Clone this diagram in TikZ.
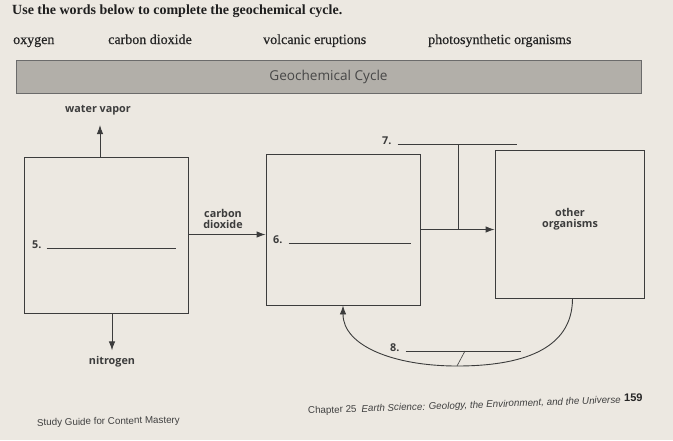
\documentclass[tikz,border=0pt]{standalone}
\usepackage{fontspec}
\setmainfont{Liberation Serif}
\setsansfont{Open Sans}
\newfontfamily\footfont{Liberation Sans}
\newfontfamily\bankfont[FakeBold=0.5]{Liberation Serif}
\usetikzlibrary{arrows.meta,positioning}
\definecolor{paper}{HTML}{ECE8E1}
\definecolor{banner}{HTML}{B2AFA9}
\definecolor{ink}{HTML}{3C3C3C}
\tikzset{
  cyclebox/.style={draw=ink, line width=0.9pt, inner sep=0pt},
  flow/.style={draw=ink, line width=0.9pt, -{Latex[length=9pt,width=6.5pt]}},
  lbl/.style={font=\sffamily\bfseries\fontsize{10.8}{12}\selectfont, text=ink, align=center, inner sep=1pt},
  num/.style={font=\sffamily\bfseries\fontsize{10.8}{12}\selectfont, text=ink, inner sep=0pt},
  blank/.style={draw=ink, line width=0.6pt},
  bank/.style={font=\bankfont\fontsize{14}{16}\selectfont, text=black!85, anchor=base west, inner sep=0pt},
  foot/.style={font=\footfont\fontsize{9.8}{11}\selectfont, text=black!75, anchor=base west, inner sep=0pt},
}
\begin{document}
\begin{tikzpicture}[x=1pt,y=-1pt]
			%%%%% START %%%%%
			\fill[paper] (0,0) rectangle (673,440);
			\useasboundingbox (0,0) rectangle (673,440);
			
			\node[anchor=base west, inner sep=0pt, text=black!88, font=\bfseries\fontsize{14}{16}\selectfont] (title) at (12,14) {Use the words below to complete the geochemical cycle.};
			
			\node[bank] (w1) at (13,44) {oxygen};
			\node[bank] (w2) at (108,44) {carbon dioxide};
			\node[bank] (w3) at (263,44) {volcanic eruptions};
			\node[bank] (w4) at (428,44) {photosynthetic organisms};
			
			\node[fill=banner, draw=black!58, line width=1pt, minimum width=625pt, minimum height=33pt, inner sep=0pt,
			  font=\sffamily\fontsize{13.6}{15}\selectfont, text=black!72] (head) at (328.5,77) {Geochemical Cycle};
			
			%% the three boxes
			\node[cyclebox, minimum width=164pt, minimum height=156pt] (left) at (106,235) {};
			\node[cyclebox, minimum width=154pt, minimum height=151pt] (mid) at (343,229.5) {};
			\node[cyclebox, minimum width=149pt, minimum height=148pt] (right) at (569.5,224) {};
			
			\node[lbl] (vapor) at (98,110) {water vapor};
			\node[lbl] (nitro) at (112,362) {nitrogen};
			\node[lbl] (co2) at (223,219) {carbon\\[-1pt]dioxide};
			\node[lbl] (other) at (570,219.5) {other\\[-1pt]organisms};
			
			\draw[flow] (left.north -| 100,0) -- ([yshift=-9pt]vapor.south -| 100,0);
			\draw[flow] (left.south -| nitro) -- ([yshift=5pt]nitro.north);
			
			\coordinate (inA) at ([yshift=-5pt]mid.west);
			\draw[flow] (left.east |- inA) -- (inA);
			\draw[flow] (mid.east) -- (mid.east -| right.west);
			
			%% blanks
			\node[num, anchor=base west] (n5) at (32,248) {5.};
			\draw[blank] ([xshift=5pt]n5.base east) -- ++(129,0);
			
			\node[num, anchor=base west] (n6) at (273,243) {6.};
			\draw[blank] ([xshift=6pt]n6.base east) -- ++(122,0);
			
			\node[num, anchor=base west] (n7) at (382,144) {7.};
			\draw[blank] ([xshift=6pt]n7.base east) coordinate (b7) -- ++(119,0);
			\coordinate (j7) at (458,0);
			\draw[blank] (j7 |- b7) -- (j7 |- mid.east);
			
			%% return path
			\coordinate (low) at (457,366);
			\draw[flow] ([xshift=3pt]right.south) .. controls +(0,52) and (520,366) .. (low)
			  .. controls (394,366) and (343,346) .. (mid.south);
			\node[num, anchor=base west] (n8) at (390,351) {8.};
			\draw[blank] ([xshift=6pt]n8.base east) coordinate (b8) -- ++(115,0);
			\draw[blank] (b8 -| 465,0) -- (low);
			
			%% footer
			\node[foot, rotate=1.2] (guide) at (37,426) {Study Guide for Content Mastery};
			\node[foot, rotate=2] (chap) at (308,414) {Chapter 25\enspace\textit{Earth Science: Geology, the Environment, and the Universe}};
			\node[foot, font=\footfont\bfseries\fontsize{11}{12}\selectfont, text=black!85] (page) at (624,401) {159};
			%%%%% END %%%%%
\end{tikzpicture}
\end{document}
